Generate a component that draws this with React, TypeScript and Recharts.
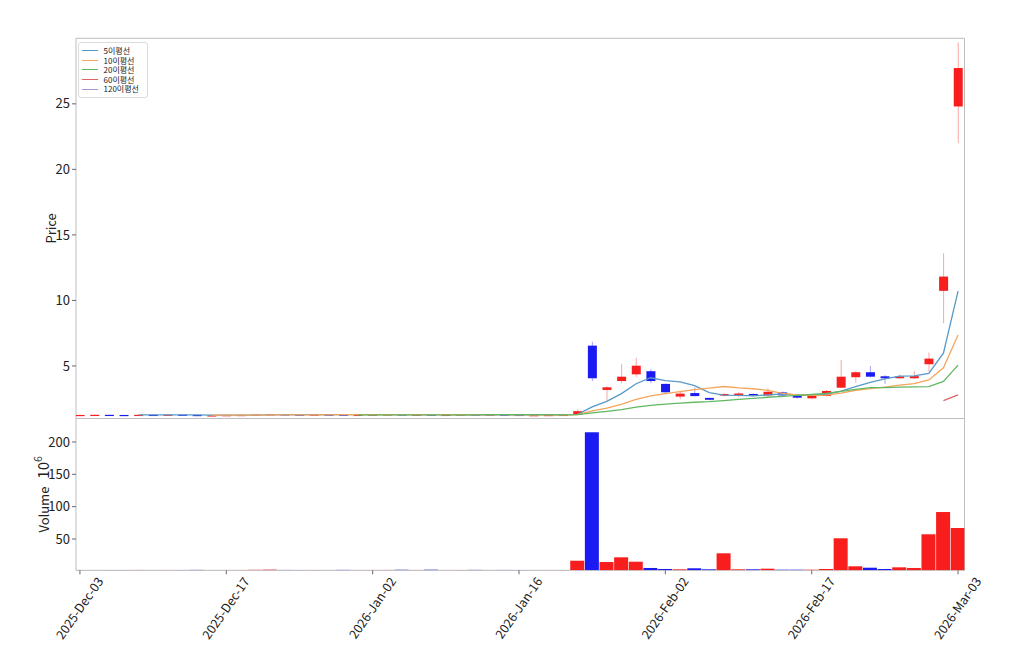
import React from 'react';
import { ComposedChart, Bar, Line, XAxis, YAxis, ReferenceArea, Legend } from 'recharts';

const FONT = "'Noto Sans CJK KR', 'Noto Sans', sans-serif";
const RED = '#f81e1e';
const BLUE = '#1a1af2';

const dates = [
  '2025-Dec-03', '2025-Dec-04', '2025-Dec-05', '2025-Dec-08', '2025-Dec-09', '2025-Dec-10', '2025-Dec-11', '2025-Dec-12', '2025-Dec-15', '2025-Dec-16',
  '2025-Dec-17', '2025-Dec-18', '2025-Dec-19', '2025-Dec-22', '2025-Dec-23', '2025-Dec-24', '2025-Dec-26', '2025-Dec-29', '2025-Dec-30', '2025-Dec-31',
  '2026-Jan-02', '2026-Jan-05', '2026-Jan-06', '2026-Jan-07', '2026-Jan-08', '2026-Jan-09', '2026-Jan-12', '2026-Jan-13', '2026-Jan-14', '2026-Jan-15',
  '2026-Jan-16', '2026-Jan-20', '2026-Jan-21', '2026-Jan-22', '2026-Jan-23', '2026-Jan-26', '2026-Jan-27', '2026-Jan-28', '2026-Jan-29', '2026-Jan-30',
  '2026-Feb-02', '2026-Feb-03', '2026-Feb-04', '2026-Feb-05', '2026-Feb-06', '2026-Feb-09', '2026-Feb-10', '2026-Feb-11', '2026-Feb-12', '2026-Feb-13',
  '2026-Feb-17', '2026-Feb-18', '2026-Feb-19', '2026-Feb-20', '2026-Feb-23', '2026-Feb-24', '2026-Feb-25', '2026-Feb-26', '2026-Feb-27', '2026-Mar-02',
  '2026-Mar-03',
];

const openP = [
  1.22, 1.24, 1.27, 1.26, 1.23, 1.27, 1.25, 1.28, 1.26, 1.22,
  1.23, 1.25, 1.25, 1.28, 1.31, 1.29, 1.27, 1.29, 1.29, 1.26,
  1.27, 1.27, 1.30, 1.27, 1.29, 1.26, 1.26, 1.29, 1.26, 1.29,
  1.27, 1.24, 1.25, 1.26, 1.27, 6.55, 3.17, 3.85, 4.36, 4.60,
  3.63, 2.66, 2.93, 2.56, 2.74, 2.74, 2.86, 2.75, 2.98, 2.76,
  2.53, 2.71, 3.34, 4.14, 4.52, 4.21, 4.06, 4.06, 5.13, 10.73,
  24.8,
];
const closeP = [
  1.26, 1.27, 1.25, 1.23, 1.27, 1.26, 1.28, 1.25, 1.22, 1.23,
  1.25, 1.26, 1.29, 1.32, 1.29, 1.28, 1.29, 1.28, 1.26, 1.27,
  1.28, 1.30, 1.27, 1.28, 1.26, 1.27, 1.29, 1.26, 1.29, 1.26,
  1.24, 1.25, 1.26, 1.27, 1.55, 4.06, 3.37, 4.18, 5.02, 3.85,
  2.99, 2.89, 2.70, 2.42, 2.86, 2.90, 2.74, 3.03, 2.75, 2.58,
  2.73, 3.09, 4.18, 4.52, 4.18, 4.06, 4.20, 4.22, 5.56, 11.82,
  27.73,
];
const highP = [
  1.28, 1.29, 1.28, 1.27, 1.29, 1.28, 1.30, 1.29, 1.27, 1.25,
  1.26, 1.27, 1.30, 1.34, 1.32, 1.30, 1.30, 1.30, 1.30, 1.28,
  1.29, 1.31, 1.31, 1.29, 1.30, 1.28, 1.30, 1.30, 1.30, 1.30,
  1.28, 1.26, 1.27, 1.28, 1.70, 6.85, 3.45, 5.13, 5.63, 4.77,
  3.66, 3.02, 3.37, 2.58, 2.95, 3.00, 2.92, 3.30, 3.05, 2.82,
  2.80, 3.17, 5.46, 4.60, 5.00, 4.30, 4.35, 4.60, 6.02, 13.6,
  29.68,
];
const lowP = [
  1.20, 1.22, 1.23, 1.22, 1.22, 1.24, 1.24, 1.24, 1.21, 1.21,
  1.22, 1.24, 1.24, 1.27, 1.27, 1.26, 1.26, 1.27, 1.25, 1.25,
  1.26, 1.26, 1.26, 1.26, 1.25, 1.25, 1.25, 1.25, 1.25, 1.25,
  1.23, 1.23, 1.24, 1.25, 1.26, 3.85, 2.35, 3.68, 4.18, 3.68,
  2.95, 2.46, 2.68, 2.38, 2.66, 2.62, 2.70, 2.66, 2.70, 2.50,
  2.45, 2.66, 3.30, 3.73, 4.14, 3.63, 4.00, 4.00, 4.57, 8.26,
  22.0,
];
// volume in millions (10^6)
const volume = [
  1.9, 1.8, 2.0, 1.9, 2.1, 1.8, 2.0, 1.9, 2.2, 1.8,
  1.9, 2.0, 2.3, 2.6, 2.1, 1.9, 2.0, 1.8, 2.2, 1.9,
  2.0, 2.1, 2.4, 2.0, 2.5, 1.9, 2.0, 2.2, 1.9, 2.1,
  2.0, 1.8, 1.9, 2.0, 16.4, 215, 14.4, 21.7, 14.9, 5.2,
  3.6, 3.1, 4.7, 3.1, 27.9, 3.1, 3.1, 4.1, 2.5, 2.5,
  2.5, 3.6, 51.1, 7.8, 5.6, 3.6, 6.2, 5.2, 57.3, 91.7,
  67.0,
];

// moving averages (values start at the given index)
const ma5Start = 4;
const ma5Vals = [
  1.26, 1.26, 1.26, 1.26, 1.26, 1.25, 1.25, 1.24, 1.25, 1.27,
  1.28, 1.29, 1.29, 1.29, 1.28, 1.28, 1.28, 1.28, 1.28, 1.28,
  1.28, 1.28, 1.27, 1.27, 1.27, 1.27, 1.27, 1.26, 1.26, 1.26,
  1.31, 1.88, 2.30, 2.89, 3.64, 4.10, 3.88, 3.79, 3.49, 2.97,
  2.77, 2.75, 2.72, 2.79, 2.86, 2.80, 2.77, 2.84, 3.07, 3.42,
  3.74, 4.01, 4.23, 4.24, 4.44, 5.97, 10.71,
];
const ma10Start = 9;
const ma10Vals = [
  1.25, 1.25, 1.25, 1.25, 1.26, 1.27, 1.27, 1.27, 1.27, 1.28,
  1.28, 1.28, 1.29, 1.28, 1.28, 1.28, 1.28, 1.28, 1.27, 1.28,
  1.28, 1.27, 1.27, 1.27, 1.27, 1.29, 1.57, 1.78, 2.07, 2.45,
  2.71, 2.88, 3.04, 3.19, 3.30, 3.43, 3.32, 3.26, 3.14, 2.91,
  2.79, 2.76, 2.78, 2.93, 3.14, 3.27, 3.39, 3.53, 3.65, 3.93,
  4.86, 7.36,
];
const ma20Start = 19;
const ma20Vals = [
  1.27, 1.27, 1.27, 1.27, 1.27, 1.27, 1.27, 1.27, 1.27, 1.28,
  1.28, 1.28, 1.28, 1.28, 1.27, 1.29, 1.42, 1.53, 1.67, 1.86,
  1.99, 2.08, 2.16, 2.23, 2.28, 2.36, 2.45, 2.52, 2.61, 2.68,
  2.75, 2.82, 2.91, 3.06, 3.22, 3.35, 3.35, 3.39, 3.40, 3.42,
  3.82, 5.06,
];
const ma60Start = 59;
const ma60Vals = [2.36, 2.80];

const seriesNames = ['5이평선', '10이평선', '20이평선', '60이평선', '120이평선'];
const seriesKeys = ['ma5', 'ma10', 'ma20', 'ma60', 'ma120'];
const seriesColors = ['#5799c7', '#f7a55a', '#62b862', '#e06566', '#ad95cd'];

const xTicks = [0, 10, 20, 30, 40, 50, 60];
const priceTicks = [5, 10, 15, 20, 25];
const volTicks = [50, 100, 150, 200];

const X_DOMAIN: [number, number] = [-0.27, 60.44];
const P_DOMAIN: [number, number] = [0.99, 30.0];
const V_DOMAIN: [number, number] = [1.6, 236.3];

const pick = (vals: number[], start: number, i: number) =>
  i >= start && i - start < vals.length ? vals[i - start] : null;

const rows = dates.map((d, i) => ({
  i,
  date: d,
  open: openP[i],
  close: closeP[i],
  high: highP[i],
  low: lowP[i],
  range: [lowP[i], highP[i]],
  vol: volume[i],
  up: closeP[i] >= openP[i],
  ma5: pick(ma5Vals, ma5Start, i),
  ma10: pick(ma10Vals, ma10Start, i),
  ma20: pick(ma20Vals, ma20Start, i),
  ma60: pick(ma60Vals, ma60Start, i),
  ma120: null as number | null,
}));

const Candle = (props: any) => {
  const { x, y, width, height, payload } = props;
  if (x == null || y == null || !payload) return null;
  const { open, close, high, low } = payload;
  const top = Math.min(y, y + height);
  const h = Math.abs(height);
  const span = high - low;
  const ppu = span > 0 ? h / span : 0;
  const cx = x + width / 2;
  const bTop = top + (high - Math.max(open, close)) * ppu;
  const bBot = top + (high - Math.min(open, close)) * ppu;
  const col = close >= open ? RED : BLUE;
  return (
    <g>
      <line x1={cx} x2={cx} y1={top} y2={top + h} stroke={col} strokeOpacity={0.4} strokeWidth={1} />
      <rect x={x} y={bTop} width={width} height={Math.max(bBot - bTop, 1.2)} fill={col} />
    </g>
  );
};

const VolBar = (props: any) => {
  const { x, y, width, height, payload } = props;
  if (x == null || y == null || !payload) return null;
  const top = Math.min(y, y + height);
  return <rect x={x} y={top} width={width} height={Math.abs(height)} fill={payload.up ? RED : BLUE} />;
};

const XTick = (props: any) => {
  const { x, y, payload } = props;
  const label = dates[payload.value] ?? '';
  return (
    <g transform={`translate(${x + 24},${y + 5})`}>
      <text x={0} y={0} transform="rotate(-55)" textAnchor="end" fontSize={12.5} fill="#222" fontFamily={FONT}>
        {label}
      </text>
    </g>
  );
};

const PriceLabel = (props: any) => {
  const vb = props.viewBox || { x: 28, y: 38, width: 48, height: 380 };
  const cx = vb.x + vb.width / 2;
  const cy = vb.y + vb.height / 2;
  return (
    <text transform={`translate(${cx},${cy}) rotate(-90)`} textAnchor="middle" dominantBaseline="middle" fontSize={13} fill="#222" fontFamily={FONT}>
      Price
    </text>
  );
};

const VolLabel = (props: any) => {
  const vb = props.viewBox || { x: 14, y: 418, width: 62, height: 152 };
  const cx = vb.x + vb.width / 2;
  const cy = vb.y + vb.height / 2;
  return (
    <text transform={`translate(${cx},${cy}) rotate(-90)`} textAnchor="middle" dominantBaseline="middle" fill="#222" fontFamily={FONT}>
      <tspan fontSize={13}>Volume</tspan>
      <tspan dx={8} fontSize={15}>10</tspan>
      <tspan dy={-6} fontSize={10.5}>6</tspan>
    </text>
  );
};

const LegendBox = (props: any) => {
  const payload = (props.payload || [])
    .filter((p: any) => seriesNames.indexOf(p.value) >= 0)
    .sort((a: any, b: any) => seriesNames.indexOf(a.value) - seriesNames.indexOf(b.value));
  return (
    <div
      style={{
        border: '1px solid #dcdcdc',
        borderRadius: 3,
        background: 'rgba(255,255,255,0.85)',
        padding: '3px 8px 3px 3px',
        fontFamily: FONT,
        fontSize: 8,
        lineHeight: '9.6px',
        color: '#222',
      }}
    >
      {payload.map((p: any) => (
        <div key={p.value} style={{ display: 'flex', alignItems: 'center', whiteSpace: 'nowrap' }}>
          <span
            style={{
              display: 'inline-block',
              width: 16,
              height: 0,
              borderTop: `1.5px solid ${seriesColors[seriesNames.indexOf(p.value)]}`,
              marginRight: 6,
            }}
          />
          <span>{p.value}</span>
        </div>
      ))}
    </div>
  );
};

const tickStyle = { fontSize: 13, fill: '#222', fontFamily: FONT };

export default function App() {
  return (
    <div style={{ position: 'absolute', left: 0, top: 0, width: 1024, height: 666, background: '#fff' }}>
      <div style={{ position: 'absolute', left: 0, top: 0 }}>
        <ComposedChart width={1024} height={420} data={rows} margin={{ top: 38.3, right: 59.5, bottom: 1.5, left: 28 }}>
          <XAxis dataKey="i" type="number" domain={X_DOMAIN} allowDataOverflow ticks={xTicks} hide />
          <YAxis
            type="number"
            domain={P_DOMAIN}
            allowDataOverflow
            ticks={priceTicks}
            width={48}
            tickSize={4}
            axisLine={false}
            tickLine={{ stroke: '#666' }}
            tick={tickStyle}
            label={PriceLabel}
          />
          <ReferenceArea x1={X_DOMAIN[0]} x2={X_DOMAIN[1]} y1={P_DOMAIN[0]} y2={P_DOMAIN[1]} fill="none" stroke="#bdbdbd" strokeWidth={1} ifOverflow="visible" />
          <Bar dataKey="range" barSize={9} shape={Candle} isAnimationActive={false} legendType="none" />
          {seriesKeys.map((k, idx) => (
            <Line
              key={k}
              dataKey={k}
              name={seriesNames[idx]}
              stroke={seriesColors[idx]}
              strokeWidth={1.3}
              dot={false}
              activeDot={false}
              type="linear"
              isAnimationActive={false}
              legendType="line"
            />
          ))}
          <Legend
            layout="vertical"
            align="center"
            verticalAlign="middle"
            content={LegendBox}
            wrapperStyle={{ left: 77.5, top: 42, width: 'auto' }}
          />
        </ComposedChart>
      </div>
      <div style={{ position: 'absolute', left: 0, top: 400 }}>
        <ComposedChart width={1024} height={266} data={rows} margin={{ top: 18.5, right: 59.5, bottom: 15.7, left: 14 }}>
          <XAxis
            dataKey="i"
            type="number"
            domain={X_DOMAIN}
            allowDataOverflow
            ticks={xTicks}
            height={80}
            tickSize={4}
            axisLine={false}
            tickLine={{ stroke: '#666' }}
            tick={XTick}
            interval={0}
          />
          <YAxis
            type="number"
            domain={V_DOMAIN}
            allowDataOverflow
            ticks={volTicks}
            width={62}
            tickSize={4}
            axisLine={false}
            tickLine={{ stroke: '#666' }}
            tick={tickStyle}
            label={VolLabel}
          />
          <ReferenceArea x1={X_DOMAIN[0]} x2={X_DOMAIN[1]} y1={V_DOMAIN[0]} y2={V_DOMAIN[1]} fill="none" stroke="#bdbdbd" strokeWidth={1} ifOverflow="visible" />
          <Bar dataKey="vol" barSize={14} shape={VolBar} isAnimationActive={false} legendType="none" />
        </ComposedChart>
      </div>
    </div>
  );
}
